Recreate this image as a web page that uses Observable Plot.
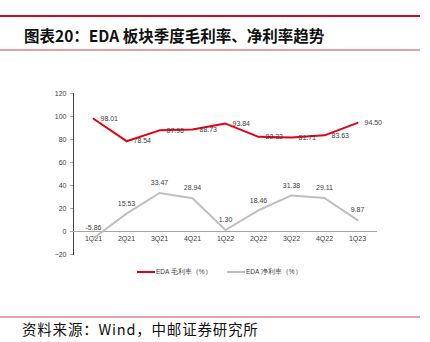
<!DOCTYPE html>
<html>
<head>
<meta charset="utf-8">
<script src="https://cdn.jsdelivr.net/npm/d3@7"></script>
<script src="https://cdn.jsdelivr.net/npm/@observablehq/plot@0.6"></script>
<style>
  html, body { margin: 0; padding: 0; background: #fff; }
  #wrap { position: relative; width: 430px; height: 342px; overflow: hidden; background: #fff; }
  .hl { position: absolute; left: 0; width: 420px; }
  #title { position: absolute; left: 24px; top: 25px; font-family: "Noto Sans CJK SC", sans-serif; font-weight: 700; font-size: 15.5px; line-height: 20px; color: #111; white-space: nowrap; }
  #foot { position: absolute; left: 22px; top: 319px; font-family: "Noto Sans CJK SC", sans-serif; font-size: 14.5px; line-height: 20px; color: #111; white-space: nowrap; letter-spacing: 0.8px; }
  #chart { position: absolute; left: 0; top: 0; }
  .leg { position: absolute; top: 266px; font-family: "Liberation Sans", Arial, sans-serif; font-size: 6.5px; line-height: 12px; color: #404040; white-space: nowrap; display: flex; align-items: center; }
  .sw { display: inline-block; width: 18px; height: 2px; margin-right: 1px; }
</style>
</head>
<body>
<div id="wrap">
  <div class="hl" style="top:15px;height:2px;background:#c8101e;"></div>
  <div id="title">图表20：EDA 板块季度毛利率、净利率趋势</div>
  <div class="hl" style="top:49px;height:2px;background:#e3a3a6;"></div>
  <div id="chart"></div>
  <div class="leg" style="left:137px;"><span class="sw" style="background:#e60012;"></span>EDA 毛利率（%）</div>
  <div class="leg" style="left:227px;"><span class="sw" style="background:#bfbfbf;"></span>EDA 净利率（%）</div>
  <div class="hl" style="top:316px;height:1.5px;background:#e3a3a6;"></div>
  <div id="foot">资料来源：Wind，中邮证券研究所</div>
</div>
<script>
const quarters = ["1Q21","2Q21","3Q21","4Q21","1Q22","2Q22","3Q22","4Q22","1Q23"];
const grossMargin = [98.01, 78.54, 87.96, 88.73, 93.84, 82.32, 81.71, 83.63, 94.50];
const netMargin = [-5.86, 15.53, 33.47, 28.94, 1.30, 18.46, 31.38, 29.11, 9.87];
const yTicks = [-20, 0, 20, 40, 60, 80, 100, 120];

const gross = quarters.map((q, i) => ({q, v: grossMargin[i]}));
const net = quarters.map((q, i) => ({q, v: netMargin[i]}));

const plot = Plot.plot({
  width: 430,
  height: 342,
  marginLeft: 73,
  marginRight: 53,
  marginTop: 93,
  marginBottom: 88,
  style: { fontFamily: "Liberation Sans, Arial, sans-serif", fontSize: "7px", color: "#404040", background: "transparent" },
  x: { type: "point", domain: quarters, padding: 0.5, axis: null },
  y: { domain: [-20, 120], ticks: yTicks, tickSize: 3, line: true, label: null, tickPadding: 4 },
  marks: [
    Plot.ruleY([0], { stroke: "#a6a6a6", strokeWidth: 1 }),
    Plot.text(quarters, { x: d => d, y: 0, dy: 7, text: d => d, fill: "#404040", fontSize: 7 }),
    Plot.line(gross, { x: "q", y: "v", stroke: "#e60012", strokeWidth: 2 }),
    Plot.line(net, { x: "q", y: "v", stroke: "#bfbfbf", strokeWidth: 2 }),
    Plot.text(gross, { x: "q", y: "v", text: d => d.v.toFixed(2), dx: 7, textAnchor: "start", fill: "#404040", fontSize: 7 }),
    Plot.text(net, { x: "q", y: "v", text: d => d.v.toFixed(2), dy: -10, fill: "#404040", fontSize: 7 })
  ]
});
document.getElementById("chart").appendChild(plot);
// style axis line colour
plot.querySelectorAll('[aria-label="y-axis"] path, [aria-label="y-axis tick"] path, g[aria-label="y-axis"] line').forEach(e => e.setAttribute("stroke", "#a6a6a6"));
</script>
</body>
</html>
